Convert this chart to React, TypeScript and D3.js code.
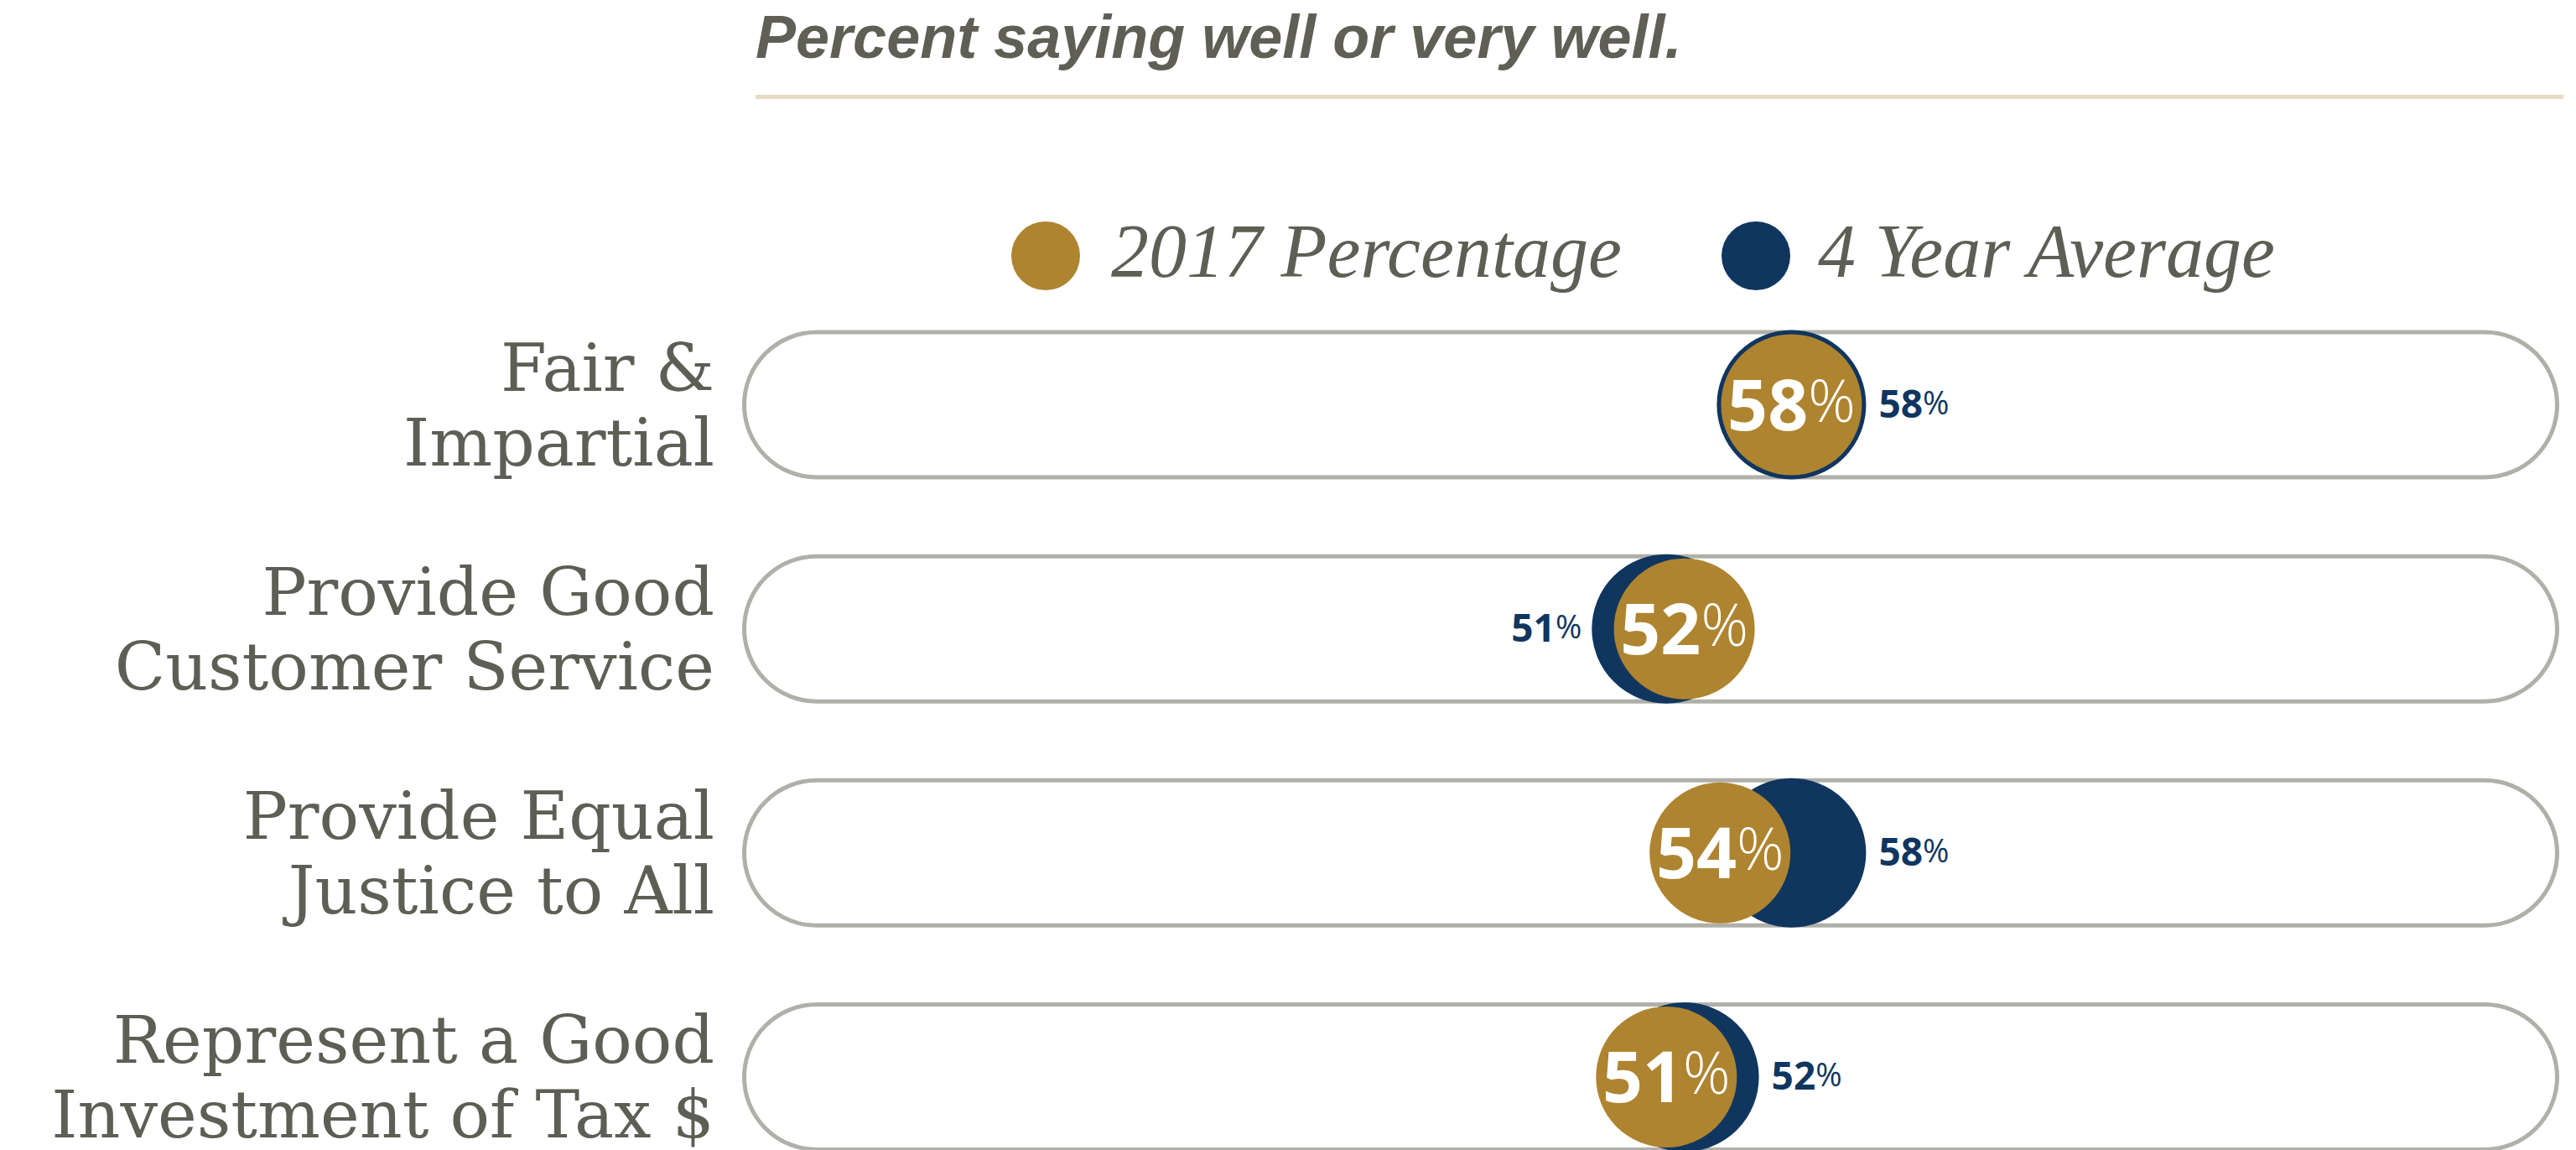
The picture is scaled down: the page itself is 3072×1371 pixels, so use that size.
import React, { useEffect, useRef } from "react";
import * as d3 from "d3";

// rows (label lines) and the two series
const categories = [
  "Fair & Impartial",
  "Provide Good Customer Service",
  "Provide Equal Justice to All",
  "Represent a Good Investment of Tax $",
];
const labelLines = [
  ["Fair &", "Impartial"],
  ["Provide Good", "Customer Service"],
  ["Provide Equal", "Justice to All"],
  ["Represent a Good", "Investment of Tax $"],
];
const pct2017 = [58, 52, 54, 51];
const avg4yr = [58, 51, 58, 52];
const seriesNames = ["2017 Percentage", "4 Year Average"];
const title = "Percent saying well or very well.";

const GOLD = "#ae8430";
const NAVY = "#10365f";
const GREY_TEXT = "#5e5e55";

const App: React.FC = () => {
  const svgRef = useRef<SVGSVGElement>(null);

  useEffect(() => {
    if (!svgRef.current) return;
    const width = 3072;
    const height = 1371;
    const svg = d3.select(svgRef.current);
    svg.selectAll("*").remove();
    svg.attr("width", width).attr("height", height);

    const x = d3.scaleLinear().domain([0, 100]).range([901, 3031]);
    const y = d3.scalePoint<string>().domain(categories).range([482.5, 1284]);

    // title + rule
    svg
      .append("text")
      .attr("x", 901)
      .attr("y", 69)
      .attr("font-family", "'Liberation Sans', Arial, sans-serif")
      .attr("font-weight", 700)
      .attr("font-style", "italic")
      .attr("font-size", 72)
      .attr("fill", "#5f5f55")
      .text(title);

    svg
      .append("line")
      .attr("x1", 901)
      .attr("x2", 3057)
      .attr("y1", 115.5)
      .attr("y2", 115.5)
      .attr("stroke", "#e6dcc3")
      .attr("stroke-width", 5);

    // legend
    const legendX = [1247, 2094];
    const legend = svg
      .selectAll(".legend")
      .data(seriesNames)
      .enter()
      .append("g")
      .attr("transform", (_, i) => `translate(${legendX[i]},305)`);
    legend
      .append("circle")
      .attr("r", 41)
      .attr("fill", (_, i) => (i === 0 ? GOLD : NAVY));
    legend
      .append("text")
      .attr("x", (_, i) => (i === 0 ? 78 : 74))
      .attr("y", 25)
      .attr("font-family", "'Liberation Serif', 'Times New Roman', serif")
      .attr("font-style", "italic")
      .attr("font-size", 90)
      .attr("fill", GREY_TEXT)
      .text((d) => d);

    const rows = svg
      .selectAll(".row")
      .data(categories)
      .enter()
      .append("g")
      .attr("transform", (d) => `translate(0,${y(d)})`);

    // pill tracks
    const pillH = 173;
    rows
      .append("rect")
      .attr("x", 887.5)
      .attr("y", -pillH / 2)
      .attr("width", 3049.5 - 887.5)
      .attr("height", pillH)
      .attr("rx", pillH / 2)
      .attr("fill", "#fff")
      .attr("stroke", "#b0b0aa")
      .attr("stroke-width", 5);

    // row labels
    rows.each(function (_, i) {
      const t = d3
        .select(this)
        .append("text")
        .attr("text-anchor", "end")
        .attr("font-family", "'DejaVu Serif', serif")
        .attr("font-size", 79)
        .attr("fill", GREY_TEXT);
      labelLines[i].forEach((line, j) => {
        t.append("tspan")
          .attr("x", 852)
          .attr("y", j === 0 ? -17 : 72)
          .text(line);
      });
    });

    // 4-year average circle (behind)
    rows
      .append("circle")
      .attr("cx", (_, i) => x(avg4yr[i]))
      .attr("r", 87)
      .attr("fill", NAVY)
      .attr("stroke", NAVY)
      .attr("stroke-width", 4);

    // 2017 circle
    rows
      .append("circle")
      .attr("cx", (_, i) => x(pct2017[i]))
      .attr("r", 84)
      .attr("fill", GOLD);

    // value inside gold circle
    const inner = rows
      .append("text")
      .attr("x", (_, i) => x(pct2017[i]))
      .attr("y", 30)
      .attr("text-anchor", "middle")
      .attr("font-family", "'Open Sans', sans-serif")
      .attr("fill", "#fff");
    inner
      .append("tspan")
      .attr("font-weight", 700)
      .attr("font-size", 84)
      .text((_, i) => String(pct2017[i]));
    inner
      .append("tspan")
      .attr("font-weight", 300)
      .attr("font-size", 70)
      .attr("dy", -10)
      .text("%");

    // 4-year average value outside
    const outer = rows
      .append("text")
      .attr("x", (_, i) =>
        avg4yr[i] >= pct2017[i] ? x(avg4yr[i]) + 89 + 15 : x(avg4yr[i]) - 89 - 12
      )
      .attr("y", 15)
      .attr("text-anchor", (_, i) => (avg4yr[i] >= pct2017[i] ? "start" : "end"))
      .attr("font-family", "'Open Sans', sans-serif")
      .attr("fill", NAVY);
    outer
      .append("tspan")
      .attr("font-weight", 700)
      .attr("font-size", 46)
      .text((_, i) => String(avg4yr[i]));
    outer
      .append("tspan")
      .attr("font-weight", 400)
      .attr("font-size", 38)
      .attr("dy", -4)
      .text("%");
  }, []);

  return (
    <svg
      ref={svgRef}
      style={{ position: "absolute", left: 0, top: 0, background: "#fff" }}
    />
  );
};

export default App;
